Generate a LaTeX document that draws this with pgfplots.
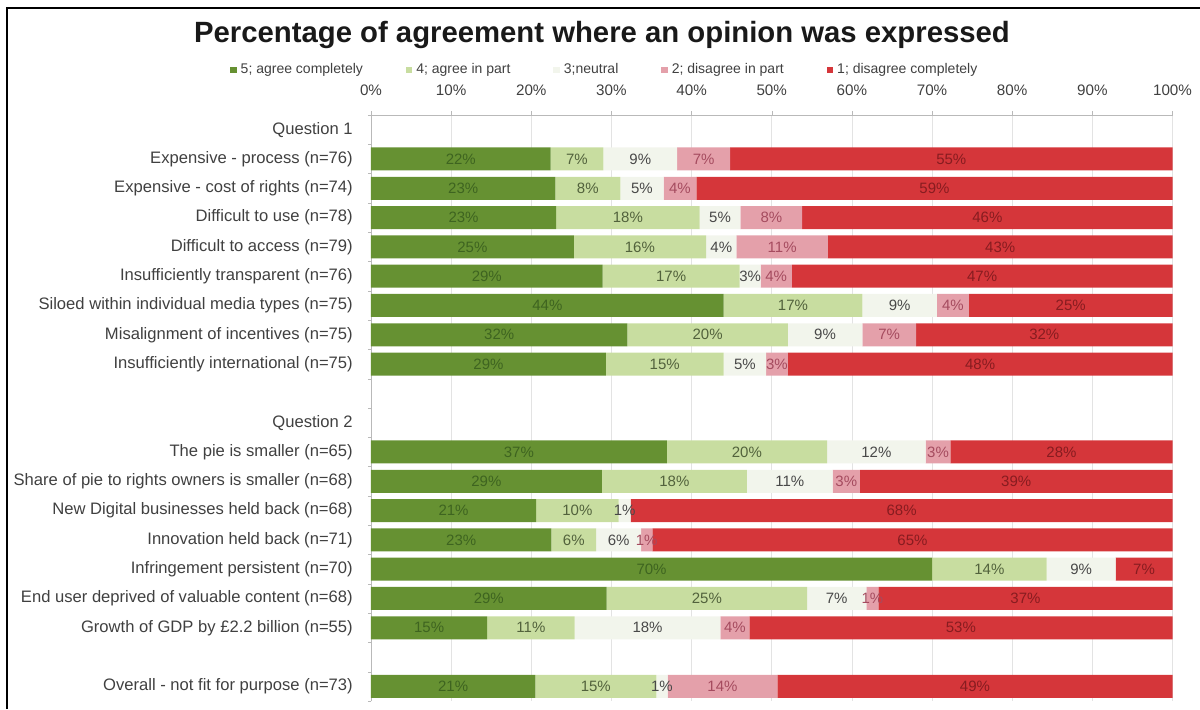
\documentclass[border=0pt]{standalone}
\usepackage{fontspec}
\setmainfont{Liberation Sans}
\usepackage{pgfplots}
\pgfplotsset{compat=1.18}
\definecolor{cfive}{RGB}{102,145,50}
\definecolor{cfour}{RGB}{200,221,160}
\definecolor{cthree}{RGB}{242,245,236}
\definecolor{ctwo}{RGB}{228,160,170}
\definecolor{cone}{RGB}{213,54,58}
\definecolor{lfive}{RGB}{62,100,32}
\definecolor{lfour}{RGB}{82,98,60}
\definecolor{lthree}{RGB}{72,72,72}
\definecolor{ltwo}{RGB}{165,75,95}
\definecolor{lone}{RGB}{135,28,32}
\definecolor{txt}{RGB}{64,64,64}
\pgfplotsset{myaxis/.style={
  at={(185.5pt,4pt)}, anchor=south west, scale only axis,
  width=400.75pt, height=293pt,
  xmin=0, xmax=100, ymin=-0.5, ymax=19.5}}
\pgfplotsset{lab/.style={draw=none, mark=none, nodes near coords={\pgfplotspointmeta\%},
  point meta=explicit symbolic,
  every node near coord/.append style={anchor=center, inner sep=0pt, font=\fontsize{7.5}{9}\selectfont, text=#1}}}
\begin{document}
\begin{tikzpicture}
\useasboundingbox (0,0) rectangle (600pt,354.5pt);
\draw[line width=1pt] (3.5pt,0) -- (3.5pt,350.5pt) -- (600pt,350.5pt);
\node[font=\fontsize{14.65}{17}\selectfont\bfseries, text=black!90] at (301pt,337pt) {Percentage of agreement where an opinion was expressed};
\begin{axis}[myaxis, xbar stacked, bar width=0.785,
  axis x line*=top, axis y line*=left,
  axis line style={gray!55},
  tick align=outside, major tick length=2pt, minor tick length=1.5pt,
  xtick={0,10,...,100},
  xticklabels={0\%,10\%,20\%,30\%,40\%,50\%,60\%,70\%,80\%,90\%,100\%},
  x tick style={gray!55},
  x tick label style={font=\fontsize{7.6}{9}\selectfont, text=txt, yshift=4pt},
  xmajorgrids, major grid style={gray!22},
  ytick={0,...,19},
  yticklabels={Overall - not fit for purpose (n=73), {}, Growth of GDP by £2.2 billion (n=55), End user deprived of valuable content (n=68), Infringement persistent (n=70), Innovation held back (n=71), New Digital businesses held back (n=68), Share of pie to rights owners is smaller (n=68), The pie is smaller (n=65), Question 2, {}, Insufficiently international (n=75), Misalignment of incentives (n=75), Siloed within individual media types (n=75), Insufficiently transparent (n=76), Difficult to access (n=79), Difficult to use (n=78), Expensive - cost of rights (n=74), Expensive - process (n=76), Question 1},
  major y tick style={draw=none},
  minor ytick={-0.5,0.5,...,19.5},
  minor y tick style={gray!55},
  y tick label style={font=\fontsize{8.3}{10}\selectfont, text=txt, xshift=-3.6pt},
  legend style={at={(0.293,1.077)}, anchor=center, draw=none, fill=none,
    font=\fontsize{7}{8}\selectfont, text=txt,
    /tikz/every even column/.append style={column sep=19.5pt}},
  legend columns=5, legend cell align=left,
  legend image code/.code={\fill[#1] (0pt,-1.6pt) rectangle (3.2pt,1.6pt);},
]
\addplot[fill=cfive, draw=none] coordinates {(22.4,18) (23.0,17) (23.1,16) (25.3,15) (28.9,14) (44.0,13) (32.0,12) (29.3,11) (36.9,8) (28.8,7) (20.6,6) (22.5,5) (70.0,4) (29.4,3) (14.5,2) (20.5,0)};
\addplot[fill=cfour, draw=none] coordinates {(6.6,18) (8.1,17) (17.9,16) (16.5,15) (17.1,14) (17.3,13) (20.0,12) (14.7,11) (20.0,8) (18.1,7) (10.3,6) (5.6,5) (14.3,4) (25.0,3) (10.9,2) (15.1,0)};
\addplot[fill=cthree, draw=none] coordinates {(9.2,18) (5.4,17) (5.1,16) (3.8,15) (2.6,14) (9.3,13) (9.3,12) (5.3,11) (12.3,8) (10.7,7) (1.5,6) (5.6,5) (8.6,4) (7.4,3) (18.2,2) (1.4,0)};
\addplot[fill=ctwo, draw=none] coordinates {(6.6,18) (4.1,17) (7.7,16) (11.4,15) (3.9,14) (4.0,13) (6.7,12) (2.7,11) (3.1,8) (3.4,7) (0,6) (1.4,5) (0,4) (1.5,3) (3.6,2) (13.7,0)};
\addplot[fill=cone, draw=none] coordinates {(55.2,18) (59.4,17) (46.2,16) (43.0,15) (47.5,14) (25.4,13) (32.0,12) (48.0,11) (27.7,8) (39.0,7) (67.6,6) (64.9,5) (7.1,4) (36.7,3) (52.8,2) (49.3,0)};
\legend{5; agree completely, 4; agree in part, 3;neutral, 2; disagree in part, 1; disagree completely}
\end{axis}
\begin{axis}[myaxis, hide axis, clip=false]
\addplot[lab=lfive] coordinates {(11.2,18)[22] (11.5,17)[23] (11.55,16)[23] (12.65,15)[25] (14.45,14)[29] (22,13)[44] (16,12)[32] (14.65,11)[29] (18.45,8)[37] (14.4,7)[29] (10.3,6)[21] (11.25,5)[23] (35,4)[70] (14.7,3)[29] (7.25,2)[15] (10.25,0)[21]};
\addplot[lab=lfour] coordinates {(25.7,18)[7] (27.05,17)[8] (32.05,16)[18] (33.55,15)[16] (37.45,14)[17] (52.65,13)[17] (42,12)[20] (36.65,11)[15] (46.9,8)[20] (37.85,7)[18] (25.75,6)[10] (25.3,5)[6] (77.15,4)[14] (41.9,3)[25] (19.95,2)[11] (28.05,0)[15]};
\addplot[lab=lthree] coordinates {(33.6,18)[9] (33.8,17)[5] (43.55,16)[5] (43.7,15)[4] (47.3,14)[3] (65.95,13)[9] (56.65,12)[9] (46.65,11)[5] (63.05,8)[12] (52.25,7)[11] (31.65,6)[1] (30.9,5)[6] (88.6,4)[9] (58.1,3)[7] (34.5,2)[18] (36.3,0)[1]};
\addplot[lab=ltwo] coordinates {(41.5,18)[7] (38.55,17)[4] (49.95,16)[8] (51.3,15)[11] (50.55,14)[4] (72.6,13)[4] (64.65,12)[7] (50.65,11)[3] (70.75,8)[3] (59.3,7)[3] (34.4,5)[1] (62.55,3)[1] (45.4,2)[4] (43.85,0)[14]};
\addplot[lab=lone] coordinates {(72.4,18)[55] (70.3,17)[59] (76.9,16)[46] (78.5,15)[43] (76.25,14)[47] (87.3,13)[25] (84,12)[32] (76,11)[48] (86.15,8)[28] (80.5,7)[39] (66.2,6)[68] (67.55,5)[65] (96.45,4)[7] (81.65,3)[37] (73.6,2)[53] (75.35,0)[49]};
\end{axis}
\end{tikzpicture}
\end{document}
